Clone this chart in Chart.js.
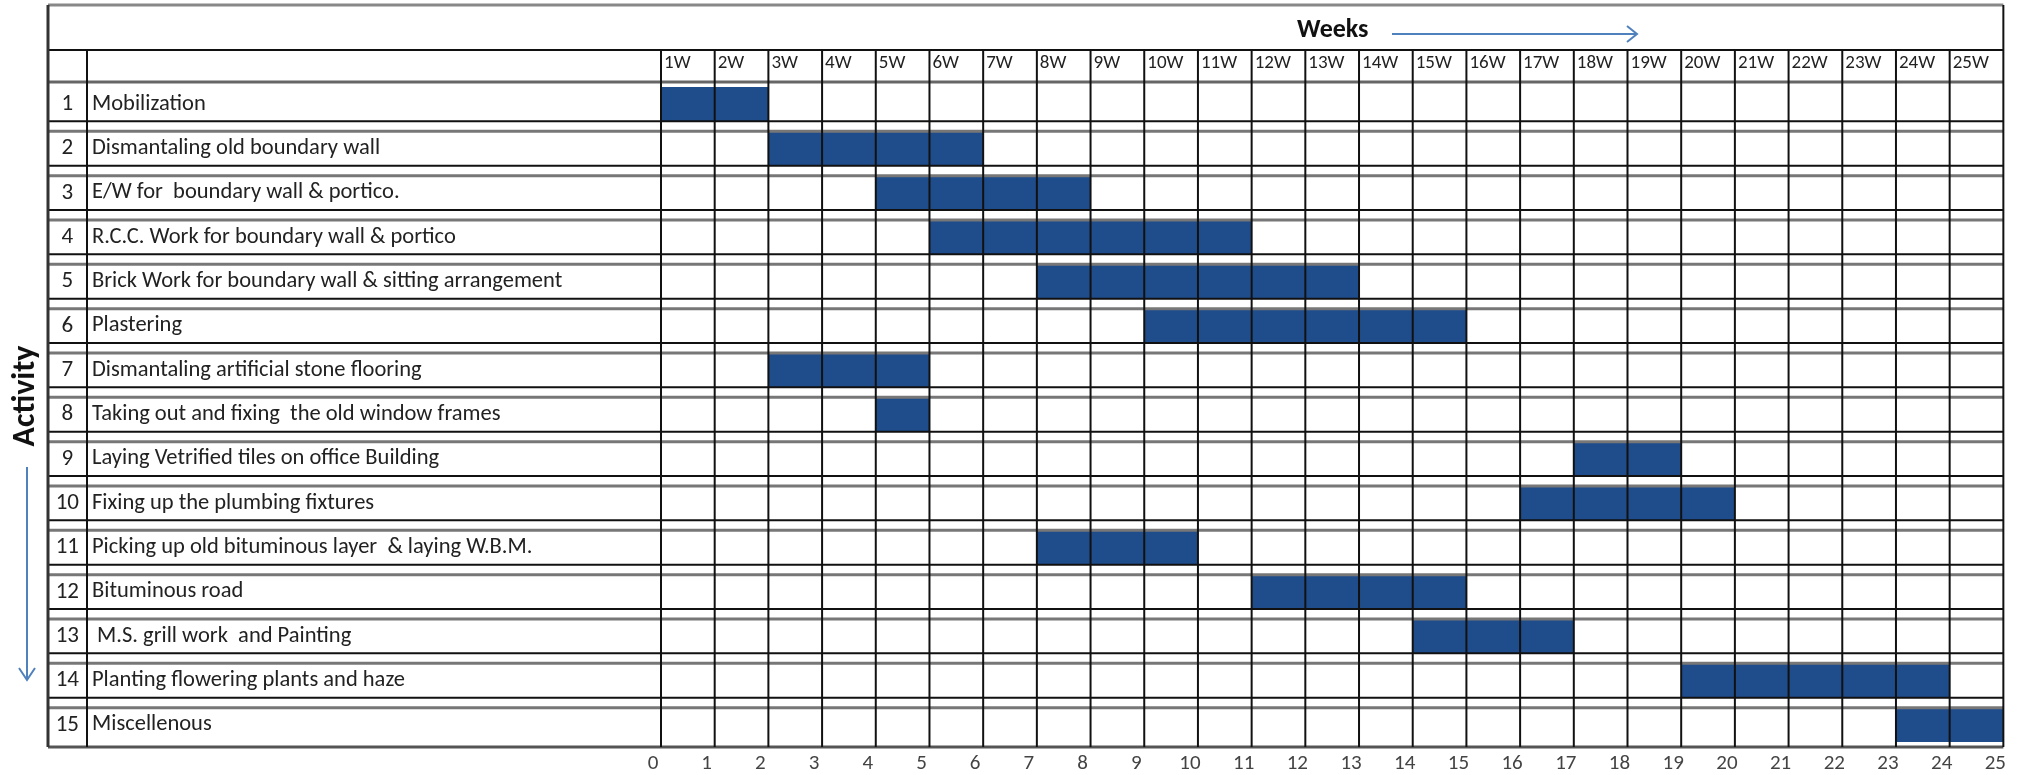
<!DOCTYPE html>
<html>
<head>
<meta charset="utf-8">
<script src="https://cdn.jsdelivr.net/npm/chart.js@4.4.1/dist/chart.umd.min.js"></script>
<style>
  html, body { margin: 0; padding: 0; background: #fff; }
  #wrap { width: 2018px; height: 775px; position: relative; }
</style>
</head>
<body>
<div id="wrap"><canvas id="gantt"></canvas></div>
<script>
// activity rows, top to bottom
const activities = [
  'Mobilization',
  'Dismantaling old boundary wall',
  'E/W for  boundary wall & portico.',
  'R.C.C. Work for boundary wall & portico',
  'Brick Work for boundary wall & sitting arrangement',
  'Plastering',
  'Dismantaling artificial stone flooring',
  'Taking out and fixing  the old window frames',
  'Laying Vetrified tiles on office Building',
  'Fixing up the plumbing fixtures',
  'Picking up old bituminous layer  & laying W.B.M.',
  'Bituminous road',
  ' M.S. grill work  and Painting',
  'Planting flowering plants and haze',
  'Miscellenous'
];
const rowNumbers = ['1', '2', '3', '4', '5', '6', '7', '8', '9', '10', '11', '12', '13', '14', '15'];

// start / end week of each activity
const startWeek = [0, 2, 4, 5, 7, 9, 2, 4, 17, 16, 7, 11, 14, 19, 23];
const endWeek   = [2, 6, 8, 11, 13, 15, 5, 5, 19, 20, 10, 15, 17, 24, 25];

const weekLabels = ['1W', '2W', '3W', '4W', '5W', '6W', '7W', '8W', '9W', '10W', '11W', '12W', '13W',
  '14W', '15W', '16W', '17W', '18W', '19W', '20W', '21W', '22W', '23W', '24W', '25W'];

const FONT = "Carlito, 'Liberation Sans Narrow', 'Liberation Sans', sans-serif";
Chart.defaults.font.family = FONT;

const tableFrame = {
  id: 'tableFrame',
  beforeDraw(chart) {
    const ctx = chart.ctx;
    ctx.save();
    ctx.fillStyle = '#fff';
    ctx.fillRect(0, 0, chart.width, chart.height);
    ctx.restore();
  },
  afterDatasetsDraw(chart) {
    const { ctx, chartArea: a, scales: { x, y } } = chart;
    const L = 48, T = 5, H1 = 50, NUM = 87;
    const R = a.right, B = a.bottom;
    const line = (x1, y1, x2, y2, color, w) => {
      ctx.beginPath();
      ctx.strokeStyle = color;
      ctx.lineWidth = w;
      ctx.moveTo(x1, y1);
      ctx.lineTo(x2, y2);
      ctx.stroke();
    };
    ctx.save();
    // row separators (double lines)
    for (let i = 0; i < activities.length - 1; i++) {
      const b = (y.getPixelForValue(i) + y.getPixelForValue(i + 1)) / 2;
      line(L, b - 5, R, b - 5, '#111', 2);
      line(L, b + 5, R, b + 5, '#777', 3);
    }
    line(L, a.top, R, a.top, '#666', 3);
    line(L, H1, R, H1, '#111', 2);
    line(L, T, R, T, '#888', 3);
    line(L, B, R, B, '#555', 3);
    // week columns
    for (let v = 0; v <= 25; v++) {
      const px = x.getPixelForValue(v);
      line(px, v === 25 ? T : H1, px, B, '#111', 2);
    }
    line(NUM, H1, NUM, B, '#111', 2);
    line(L, T, L, B, '#333', 3);
    ctx.restore();
  },
  afterDraw(chart) {
    const ctx = chart.ctx;
    ctx.save();
    ctx.fillStyle = '#111';
    ctx.font = 'bold 26px ' + FONT;
    ctx.textBaseline = 'middle';
    ctx.textAlign = 'left';
    ctx.fillText('Weeks', 1297, 30);
    // arrow right
    ctx.strokeStyle = '#4f81bd';
    ctx.lineWidth = 2;
    ctx.beginPath();
    ctx.moveTo(1392, 34); ctx.lineTo(1637, 34);
    ctx.moveTo(1627, 26); ctx.lineTo(1637, 34); ctx.lineTo(1627, 42);
    ctx.stroke();
    // vertical "Activity"
    ctx.save();
    ctx.translate(26, 396);
    ctx.rotate(-Math.PI / 2);
    ctx.textAlign = 'center';
    ctx.font = 'bold 32px ' + FONT;
    ctx.fillText('Activity', 0, 0);
    ctx.restore();
    ctx.beginPath();
    ctx.moveTo(27, 467); ctx.lineTo(27, 680);
    ctx.moveTo(19, 668); ctx.lineTo(27, 680); ctx.lineTo(35, 668);
    ctx.stroke();
    ctx.restore();
  }
};

new Chart(document.getElementById('gantt'), {
  type: 'bar',
  data: {
    labels: activities,
    datasets: [{
      label: 'Schedule',
      data: startWeek.map((s, i) => [s, endWeek[i]]),
      backgroundColor: '#1f4d8c',
      borderWidth: 0,
      barPercentage: 0.77,
      categoryPercentage: 1
    }]
  },
  options: {
    indexAxis: 'y',
    responsive: true,
    maintainAspectRatio: false,
    animation: false,
    layout: { padding: { left: 48, top: 50, right: 14, bottom: 0 } },
    plugins: {
      legend: { display: false },
      tooltip: { enabled: false }
    },
    scales: {
      x: {
        type: 'linear',
        position: 'bottom',
        min: 0,
        max: 25,
        grid: { display: false, drawTicks: false },
        border: { display: false },
        ticks: { stepSize: 1, color: '#444', font: { size: 21 }, padding: 4, labelOffset: -8 },
        afterFit: s => { s.height = 28; }
      },
      x2: {
        type: 'linear',
        position: 'top',
        min: 0,
        max: 25,
        grid: { display: false, drawTicks: false },
        border: { display: false },
        ticks: {
          stepSize: 1,
          align: 'start',
          labelOffset: 3,
          padding: 7,
          color: '#222',
          font: { size: 19 },
          callback: v => weekLabels[v] ?? ''
        },
        afterFit: s => { s.height = 32; }
      },
      y: {
        type: 'category',
        position: 'left',
        weight: 0,
        offset: true,
        grid: { display: false, drawTicks: false },
        border: { display: false },
        ticks: { crossAlign: 'far', color: '#222', font: { size: 22.5 }, padding: 0 },
        afterFit: s => { s.width = 569; }
      },
      y2: {
        type: 'category',
        position: 'left',
        weight: 1,
        offset: true,
        labels: rowNumbers,
        grid: { display: false, drawTicks: false },
        border: { display: false },
        ticks: { crossAlign: 'center', color: '#222', font: { size: 23 }, padding: 13 },
        afterFit: s => { s.width = 44; }
      }
    }
  },
  plugins: [tableFrame]
});
</script>
</body>
</html>
